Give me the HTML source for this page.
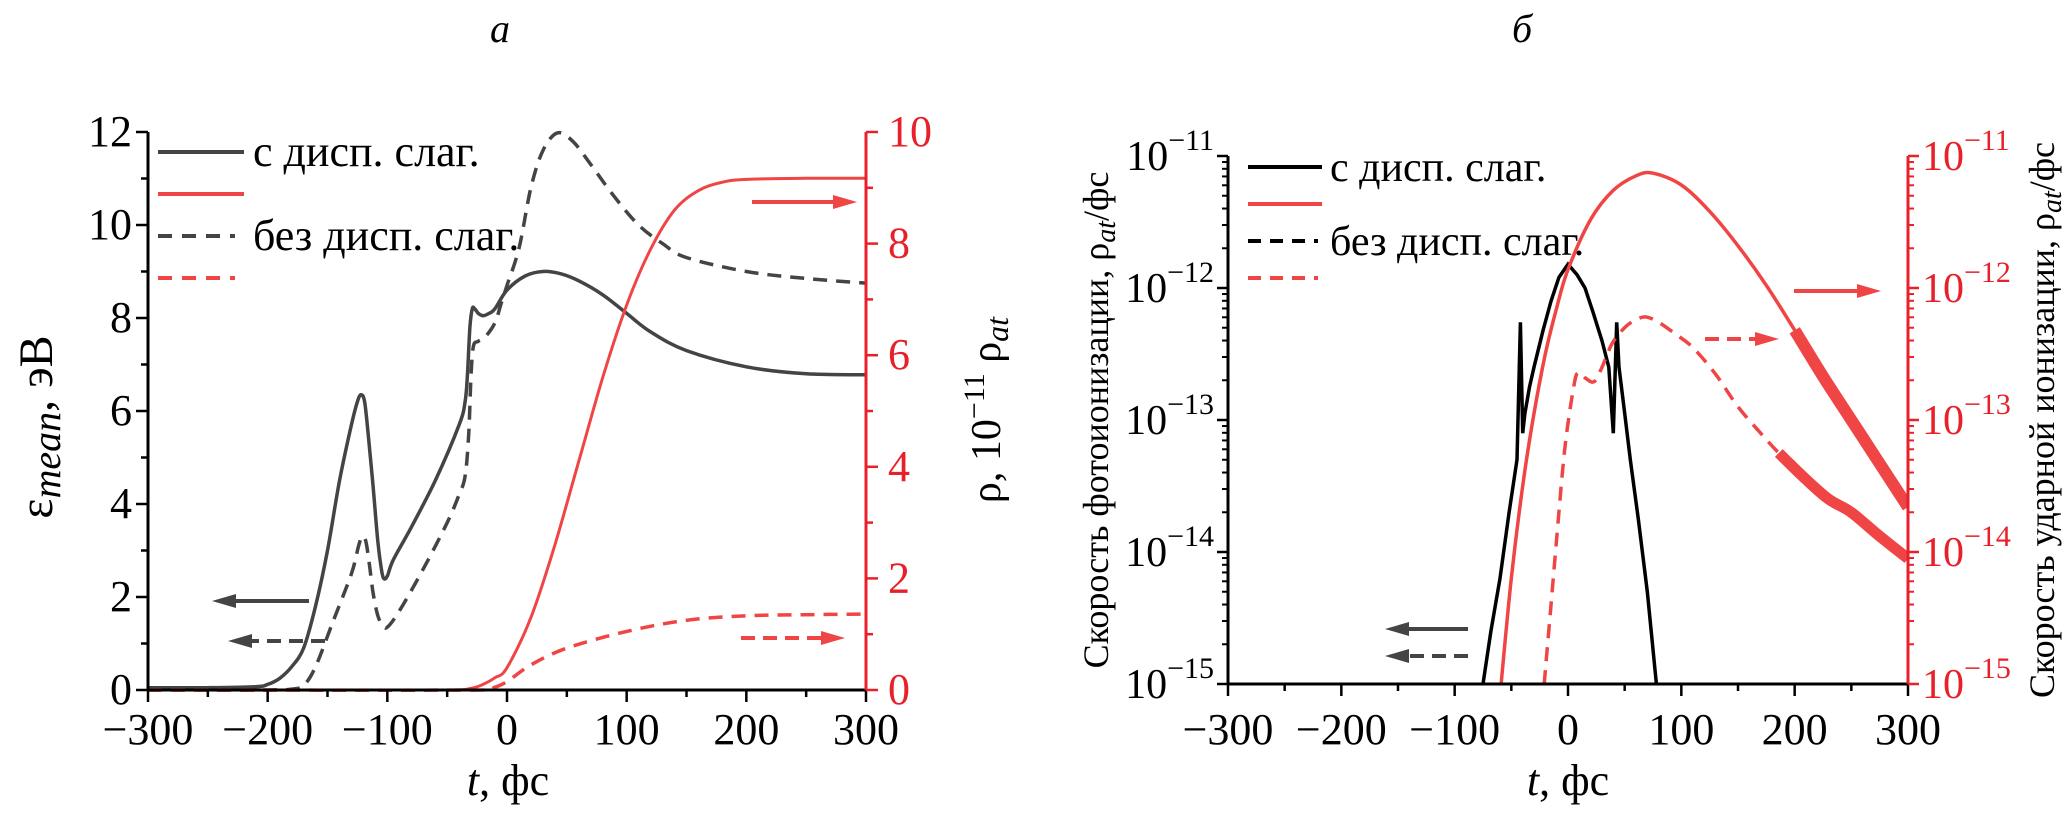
<!DOCTYPE html>
<html><head><meta charset="utf-8"><style>
html,body{margin:0;padding:0;background:#fff}
svg{display:block}
svg text, svg tspan{font-family:"Liberation Serif","Times New Roman",serif}
</style></head><body>
<svg id="fig" xmlns="http://www.w3.org/2000/svg" width="2067" height="827" viewBox="0 0 2067 827" style="font-family:'Liberation Serif',serif">
<text x="500" y="42" font-size="40" font-style="italic" text-anchor="middle">а</text>
<text x="1522" y="42" font-size="40" font-style="italic" text-anchor="middle">б</text>
<g id="ga"></g>
<g id="gb"></g>
</svg>
<script>
// ---- Chart A data ----
const aBlackT = [-300,-250,-210,-200,-190,-180,-170,-160,-150,-140,-130,-125,-122,-119,-116,-112,-108,-105,-103,-100,-95,-80,-60,-40,-35,-33,-31,-29,-27,-24,-20,-15,-10,0,15,30,45,60,80,100,120,150,200,250,300];
const aBlackV = [0.05,0.05,0.07,0.12,0.25,0.5,0.9,1.8,3.0,4.5,5.7,6.2,6.35,6.2,5.5,4.4,3.2,2.6,2.4,2.45,2.8,3.5,4.5,5.7,6.2,6.8,7.8,8.2,8.2,8.1,8.05,8.1,8.2,8.6,8.9,9.0,8.95,8.8,8.5,8.1,7.7,7.3,6.95,6.8,6.78];
const aDashT = [-300,-200,-180,-170,-160,-145,-130,-124,-121,-118,-115,-112,-108,-104,-100,-90,-70,-50,-40,-35,-32,-30,-28,-24,-18,-10,-5,0,10,20,30,42,55,70,90,110,130,150,200,250,300];
const aDashV = [0,0,0.02,0.1,0.5,1.5,2.5,3.1,3.3,3.2,2.7,2.1,1.6,1.4,1.35,1.7,2.6,3.6,4.2,4.6,5.5,6.8,7.4,7.5,7.6,7.9,8.3,8.7,9.5,10.8,11.6,11.98,11.8,11.3,10.6,10.0,9.6,9.3,9.0,8.85,8.75];
const aRhoT = [-300,-50,-30,-20,-10,0,20,40,60,80,100,120,140,160,180,200,250,300];
const aRhoV = [0,0,0.03,0.1,0.22,0.4,1.3,2.6,4.1,5.6,6.9,7.9,8.6,8.95,9.1,9.15,9.17,9.17];
const aRhoDT = [-300,-20,-10,0,20,50,100,150,200,250,300];
const aRhoDV = [0,0,0.05,0.15,0.45,0.75,1.05,1.25,1.33,1.35,1.36];
const aXTicks = [-300,-200,-100,0,100,200,300];
const aYTicks = [0,2,4,6,8,10,12];
const aY2Ticks = [0,2,4,6,8,10];
// ---- Chart B data (log10 values) ----
const bPhotoT = [-75,-68,-60,-52,-45,-42,-40,-38,-34,-30,-22,-15,-8,0,8,15,22,30,36,40,43,45,50,55,62,70,78];
const bPhotoV = [-15,-14.6,-14.2,-13.7,-13.3,-12.26,-13.1,-12.95,-12.75,-12.6,-12.32,-12.1,-11.92,-11.82,-11.9,-12.0,-12.18,-12.4,-12.6,-13.1,-12.26,-12.6,-12.95,-13.3,-13.75,-14.3,-15];
const bImpT = [-59,-50,-40,-30,-20,-10,0,20,40,60,75,100,125,150,175,200,225,250,275,300];
const bImpV = [-15,-14.2,-13.5,-12.95,-12.5,-12.15,-11.86,-11.48,-11.26,-11.15,-11.13,-11.22,-11.42,-11.68,-11.98,-12.32,-12.67,-13.0,-13.33,-13.66];
const bImpDT = [-21,-16,-11,-3,5,9,15,23,30,39,50,60,69,80,95,110,130,150,170,186,210,230,250,275,300];
const bImpDV = [-15,-14.5,-14.0,-13.23,-12.75,-12.64,-12.68,-12.71,-12.6,-12.42,-12.3,-12.24,-12.22,-12.26,-12.35,-12.45,-12.65,-12.9,-13.1,-13.25,-13.45,-13.6,-13.7,-13.88,-14.05];
const bXTicks = [-300,-200,-100,0,100,200,300];
const bDecades = [-15,-14,-13,-12,-11];

const NS="http://www.w3.org/2000/svg";
function mk(parent,tag,attrs){const e=document.createElementNS(NS,tag);for(const k in attrs)e.setAttribute(k,attrs[k]);parent.appendChild(e);return e;}
function pathD(ts,vs,fx,fy){return ts.map((t,i)=>(i?'L':'M')+fx(t).toFixed(1)+' '+fy(vs[i]).toFixed(1)).join(' ');}
function smoothD(ts,vs,fx,fy){
  const P=ts.map((t,i)=>[fx(t),fy(vs[i])]);
  let d='M'+P[0][0].toFixed(1)+' '+P[0][1].toFixed(1);
  for(let i=0;i<P.length-1;i++){
    const p0=P[Math.max(0,i-1)],p1=P[i],p2=P[i+1],p3=P[Math.min(P.length-1,i+2)];
    const k=1/6;
    const c1=[p1[0]+(p2[0]-p0[0])*k,p1[1]+(p2[1]-p0[1])*k];
    const c2=[p2[0]-(p3[0]-p1[0])*k,p2[1]-(p3[1]-p1[1])*k];
    c1[0]=Math.min(Math.max(c1[0],p1[0]),p2[0]);c2[0]=Math.min(Math.max(c2[0],p1[0]),p2[0]);
    d+=' C'+c1[0].toFixed(1)+' '+c1[1].toFixed(1)+' '+c2[0].toFixed(1)+' '+c2[1].toFixed(1)+' '+p2[0].toFixed(1)+' '+p2[1].toFixed(1);
  }
  return d;
}

// ===== Chart A =====
const ga=document.getElementById('ga');
const aL=148,aR=866,aB=690,aT=132;
const ax=t=>aL+(t+300)*(aR-aL)/600;
const ay=v=>aB-(v/12)*(aB-aT);
const ay2=v=>aB-(v/10)*(aB-aT);
const GRAY="#444", RED="#f04545", RAX="#e8202a";
let p;
p=mk(ga,'path',{d:smoothD(aBlackT,aBlackV,ax,ay),fill:'none',stroke:GRAY,'stroke-width':3.5,'stroke-linejoin':'round'});

p=mk(ga,'path',{d:smoothD(aDashT,aDashV,ax,ay),fill:'none',stroke:GRAY,'stroke-width':3.5,'stroke-dasharray':'14 9'});

p=mk(ga,'path',{d:smoothD(aRhoT,aRhoV,ax,ay2),fill:'none',stroke:RED,'stroke-width':3});

p=mk(ga,'path',{d:smoothD(aRhoDT,aRhoDV,ax,ay2),fill:'none',stroke:RED,'stroke-width':3.5,'stroke-dasharray':'14 9'});

// axes
mk(ga,'line',{x1:aL,y1:aT,x2:aL,y2:aB,stroke:'#000','stroke-width':3});
mk(ga,'line',{x1:aL,y1:aB,x2:aR,y2:aB,stroke:'#000','stroke-width':3});
mk(ga,'line',{x1:aR,y1:aT,x2:aR,y2:aB,stroke:RAX,'stroke-width':3});
for(let t=-300;t<=300;t+=50){const maj=t%100===0;mk(ga,'line',{x1:ax(t),y1:aB,x2:ax(t),y2:aB+(maj?12:7),stroke:'#000','stroke-width':2.5});}
aXTicks.forEach(t=>{const e=mk(ga,'text',{x:ax(t),y:744,'font-size':44,'text-anchor':'middle'});e.textContent=(t<0?'\u2212':'')+Math.abs(t);
});
for(let v=0;v<=12;v+=1){const maj=v%2===0;mk(ga,'line',{x1:aL,y1:ay(v),x2:aL-(maj?12:7),y2:ay(v),stroke:'#000','stroke-width':2.5});}
aYTicks.forEach(v=>{const e=mk(ga,'text',{x:aL-16,y:ay(v)+14,'font-size':44,'text-anchor':'end'});e.textContent=v;
});
for(let v=0;v<=10;v+=1){const maj=v%2===0;mk(ga,'line',{x1:aR,y1:ay2(v),x2:aR+(maj?12:7),y2:ay2(v),stroke:RAX,'stroke-width':2.5});}
aY2Ticks.forEach(v=>{const e=mk(ga,'text',{x:aR+22,y:ay2(v)+14,'font-size':44,fill:RAX});e.textContent=v;
});
// legend A
mk(ga,'line',{x1:158,y1:152,x2:244,y2:152,stroke:GRAY,'stroke-width':4});
mk(ga,'line',{x1:158,y1:194,x2:244,y2:194,stroke:RED,'stroke-width':4});
mk(ga,'line',{x1:158,y1:236,x2:235,y2:236,stroke:GRAY,'stroke-width':4,'stroke-dasharray':'14 10'});
mk(ga,'line',{x1:158,y1:278,x2:235,y2:278,stroke:RED,'stroke-width':4,'stroke-dasharray':'14 10'});
// arrows A
function arrow(g,x1,y,x2,col,dash){mk(g,'line',{x1:x1,y1:y,x2:x2+(x2<x1?16:-16),y2:y,stroke:col,'stroke-width':4,'stroke-dasharray':dash?'14 8':'none'});
const d=x2<x1?1:-1;mk(g,'polygon',{points:`${x2},${y} ${x2+d*24},${y-7} ${x2+d*24},${y+7}`,fill:col});}
arrow(ga,309,601,212,GRAY,false);arrow(ga,325,641,228,GRAY,true);
arrow(ga,741,638,845,RED,true);arrow(ga,752,202,857,RED,false);
</script>
<svg style="position:absolute;left:0;top:0;font-family:'Liberation Serif',serif" width="2067" height="827" xmlns="http://www.w3.org/2000/svg">
<g font-size="44">
<text x="253" y="166">с дисп. слаг.</text>
<text x="253" y="250">без дисп. слаг.</text>
</g>
<text transform="translate(52,427) rotate(-90)" text-anchor="middle" font-size="48">ε<tspan font-style="italic" font-size="40" dy="8">mean</tspan><tspan dy="-8">, эВ</tspan></text>
<text transform="translate(1000,410) rotate(-90)" text-anchor="middle" font-size="42">ρ, 10<tspan font-size="30" dy="-16">−11</tspan><tspan dy="16"> ρ</tspan><tspan font-style="italic" font-size="32" dy="8">at</tspan></text>
<text x="508" y="795" text-anchor="middle" font-size="44"><tspan font-style="italic">t</tspan>, фс</text>
<g font-size="42">
<text x="1330" y="181">с дисп. слаг.</text>
<text x="1330" y="255">без дисп. слаг.</text>
</g>
<text transform="translate(1108,420) rotate(-90)" text-anchor="middle" font-size="36">Скорость фотоионизации, ρ<tspan font-style="italic" font-size="28" dy="7">at</tspan><tspan dy="-7">/фс</tspan></text>
<text transform="translate(2054,420) rotate(-90)" text-anchor="middle" font-size="36">Скорость ударной ионизации, ρ<tspan font-style="italic" font-size="28" dy="7">at</tspan><tspan dy="-7">/фс</tspan></text>
<text x="1568" y="795" text-anchor="middle" font-size="44"><tspan font-style="italic">t</tspan>, фс</text>
</svg>
<script>
// ===== Chart B =====
(function(){
const gb=document.getElementById('gb');
const bL=1228,bR=1908,bB=684,bT=156;
const bx=t=>bL+(t+300)*(bR-bL)/600;
const by=v=>bB-(v+15)*(bB-bT)/4;
const RED="#f04545",RAX="#e8202a";
const clip=mk(gb,'clipPath',{id:'clipb'});mk(clip,'rect',{x:bL,y:bT-30,width:bR-bL,height:bB-bT+30});
const grp=mk(gb,'g',{'clip-path':'url(#clipb)'});
let p;
p=mk(grp,'path',{d:pathD(bPhotoT,bPhotoV,bx,by),fill:'none',stroke:'#000','stroke-width':3.5,'stroke-linejoin':'miter'});

p=mk(grp,'path',{d:smoothD(bImpT,bImpV,bx,by),fill:'none',stroke:RED,'stroke-width':3.5});

p=mk(grp,'path',{d:smoothD(bImpDT,bImpDV,bx,by),fill:'none',stroke:RED,'stroke-width':3.5,'stroke-dasharray':'14 9'});

// thick noisy tails
const tail=(T,V,from)=>{const ts=[],vs=[];T.forEach((t,i)=>{if(t>=from){ts.push(t);vs.push(V[i]);}});return smoothD(ts,vs,bx,by);};
p=mk(grp,'path',{d:tail(bImpT,bImpV,190),fill:'none',stroke:RED,'stroke-width':12});

p=mk(grp,'path',{d:tail(bImpDT,bImpDV,186),fill:'none',stroke:RED,'stroke-width':11});

// axes
mk(gb,'line',{x1:bL,y1:bT,x2:bL,y2:bB,stroke:'#000','stroke-width':3});
mk(gb,'line',{x1:bL,y1:bB,x2:bR,y2:bB,stroke:'#000','stroke-width':3});
mk(gb,'line',{x1:bR,y1:bT,x2:bR,y2:bB,stroke:RAX,'stroke-width':3});
for(let t=-300;t<=300;t+=50){const maj=t%100===0;mk(gb,'line',{x1:bx(t),y1:bB,x2:bx(t),y2:bB+(maj?12:7),stroke:'#000','stroke-width':2.5});}
bXTicks.forEach(t=>{const e=mk(gb,'text',{x:bx(t),y:744,'font-size':44,'text-anchor':'middle'});e.textContent=(t<0?'\u2212':'')+Math.abs(t);
});
bDecades.forEach(d=>{
 mk(gb,'line',{x1:bL,y1:by(d),x2:bL-11,y2:by(d),stroke:'#000','stroke-width':2.5});
 mk(gb,'line',{x1:bR,y1:by(d),x2:bR+11,y2:by(d),stroke:RAX,'stroke-width':2.5});
 if(d<-11){for(let m=2;m<=9;m++){const v=d+Math.log10(m);
  mk(gb,'line',{x1:bL,y1:by(v),x2:bL-6,y2:by(v),stroke:'#000','stroke-width':2});
  mk(gb,'line',{x1:bR,y1:by(v),x2:bR+6,y2:by(v),stroke:RAX,'stroke-width':2});}}
 const e=mk(gb,'text',{x:bL-14,y:by(d)+14,'font-size':42,'text-anchor':'end'});
 e.innerHTML='10<tspan font-size="30" dy="-20">−'+(-d)+'</tspan>';
 
 const f=mk(gb,'text',{x:bR+14,y:by(d)+14,'font-size':42,fill:RAX});
 f.innerHTML='10<tspan font-size="30" dy="-20">−'+(-d)+'</tspan>';
 
});
// legend B lines
mk(gb,'line',{x1:1248,y1:167,x2:1322,y2:167,stroke:'#000','stroke-width':4});
mk(gb,'line',{x1:1248,y1:204,x2:1322,y2:204,stroke:RED,'stroke-width':4});
mk(gb,'line',{x1:1248,y1:241,x2:1318,y2:241,stroke:'#000','stroke-width':4,'stroke-dasharray':'13 9'});
mk(gb,'line',{x1:1248,y1:278,x2:1318,y2:278,stroke:RED,'stroke-width':4,'stroke-dasharray':'13 9'});
function arrow(x1,y,x2,col,dash){mk(gb,'line',{x1:x1,y1:y,x2:x2+(x2<x1?16:-16),y2:y,stroke:col,'stroke-width':4,'stroke-dasharray':dash?'14 8':'none'});
const d=x2<x1?1:-1;mk(gb,'polygon',{points:`${x2},${y} ${x2+d*24},${y-7} ${x2+d*24},${y+7}`,fill:col});}
arrow(1794,291,1881,RED,false);arrow(1705,339,1779,RED,true);
arrow(1468,629,1385,'#444',false);arrow(1468,656,1385,'#444',true);
})();
</script>
</body></html>
